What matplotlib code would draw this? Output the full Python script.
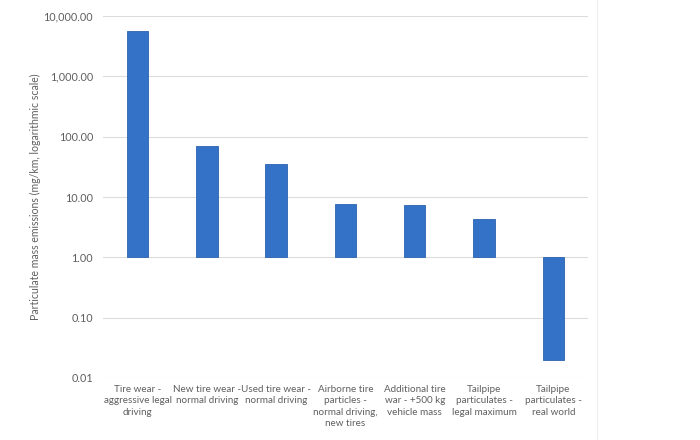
import matplotlib
matplotlib.use("Agg")
import matplotlib.pyplot as plt
from matplotlib.ticker import FixedLocator, FuncFormatter, NullLocator
from matplotlib.lines import Line2D

categories = [
    "Tire wear -\naggressive legal\ndriving",
    "New tire wear -\nnormal driving",
    "Used tire wear -\nnormal driving",
    "Airborne tire\nparticles -\nnormal driving,\nnew tires",
    "Additional tire\nwar - +500 kg\nvehicle mass",
    "Tailpipe\nparticulates -\nlegal maximum",
    "Tailpipe\nparticulates -\nreal world",
]
values = [5600, 70, 35, 7.8, 7.4, 4.4, 0.02]
yticks = [0.01, 0.1, 1, 10, 100, 1000, 10000]

plt.rcParams['font.family'] = ['Lato', 'DejaVu Sans']
text_color = "#5f5f5f"

fig = plt.figure(figsize=(7, 4.4), dpi=100)
ax = fig.add_axes([0.147, 0.141, 0.693, 0.8225])

base = 1.0
x = list(range(len(categories)))
heights = [v - base for v in values]
ax.bar(x, heights, bottom=base, width=0.31, color="#3372C6",
       edgecolor="#2C62AE", linewidth=0.6, zorder=3)

ax.set_yscale("log")
ax.set_ylim(0.01, 10000)
ax.set_xlim(-0.5, len(categories) - 0.5)
ax.yaxis.set_major_locator(FixedLocator(yticks))
ax.yaxis.set_minor_locator(NullLocator())
ax.yaxis.set_major_formatter(FuncFormatter(lambda v, p: f"{v:,.2f}"))
ax.grid(axis="y", color="#dcdcdc", linewidth=0.8, zorder=0)
ax.set_axisbelow(True)
for s in ax.spines.values():
    s.set_visible(False)

ax.set_xticks(x)
ax.set_xticklabels(categories, fontsize=7.1, color=text_color, linespacing=1.35, va="top")
ax.tick_params(axis="both", length=0, colors=text_color)
ax.tick_params(axis="x", pad=5, labelsize=7.1)
ax.tick_params(axis="y", pad=7, labelsize=7.8)

ax.set_ylabel("Particulate mass emissions (mg/km, logarithmic scale)",
              fontsize=7.6, color=text_color)
ax.yaxis.set_label_coords(-0.128, 0.5)

fig.add_artist(Line2D([597/700, 597/700], [0, 1], color="#eeeeee", linewidth=0.8,
                      transform=fig.transFigure))

fig.savefig("out.png", dpi=100, facecolor="white")
